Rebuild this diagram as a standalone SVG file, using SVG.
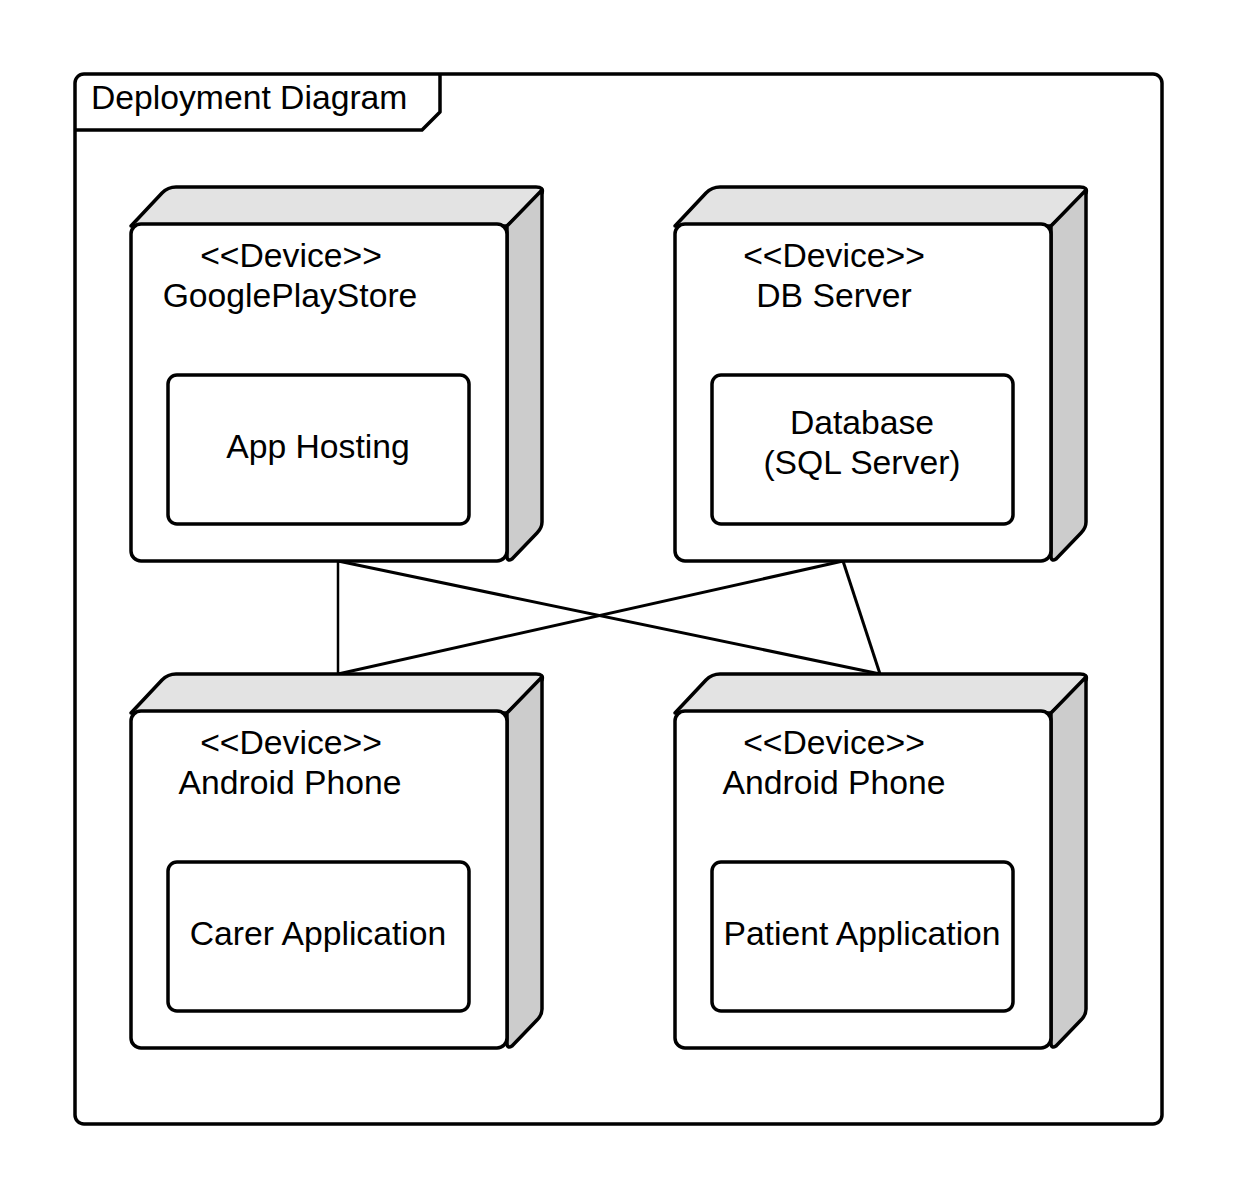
<svg xmlns="http://www.w3.org/2000/svg" width="1238" height="1200" viewBox="0 0 1238 1200">
<style>
.o{stroke:#000;stroke-width:3.5;stroke-linejoin:round}
.top{fill:#e3e3e3}
.side{fill:#cccccc}
.front{fill:#fff}
.art{fill:#fff;stroke:#000;stroke-width:3.5}
.c{stroke:#000;stroke-width:3;fill:none}
text{font-family:"Liberation Sans",Arial,sans-serif;font-size:33.7px;fill:#000;text-anchor:middle}
</style>
<rect width="1238" height="1200" fill="#fff"/>
<g id="frame">
<rect x="75" y="74" width="1087" height="1050" rx="9" fill="#fff" stroke="#000" stroke-width="3.5"/>
<path d="M75,130 L422,130 L440,112 L440,74" fill="none" stroke="#000" stroke-width="3.5" stroke-linejoin="round"/>
<text x="91" y="109" style="text-anchor:start">Deployment Diagram</text>
</g>
<g id="connectors">
<line class="c" x1="338" y1="561" x2="338" y2="674" style="stroke-width:2.5"/>
<line class="c" x1="338" y1="561" x2="880" y2="674"/>
<line class="c" x1="843" y1="561" x2="338" y2="674"/>
<line class="c" x1="843" y1="561" x2="880" y2="674"/>
</g>
<g id="node-googleplaystore">
<path class="o top" d="M131,226 L162,193 Q168,187 176,187 L536,187 Q544,187 542,193 L507,226 Z"/>
<path class="o side" d="M507,226 L542,190 L542,522 Q542,528 537,533 L512,559 Q507,562 507,556 Z"/>
<rect class="o front" x="131" y="224" width="376" height="337" rx="10"/>
<text x="291" y="267">&lt;&lt;Device&gt;&gt;</text>
<text x="290" y="307">GooglePlayStore</text>
<rect class="art" x="168" y="375" width="301" height="149" rx="9"/>
<text x="318" y="458">App Hosting</text>
</g>
<g id="node-dbserver">
<path class="o top" d="M675,226 L706,193 Q712,187 720,187 L1080,187 Q1088,187 1086,193 L1051,226 Z"/>
<path class="o side" d="M1051,226 L1086,190 L1086,522 Q1086,528 1081,533 L1056,559 Q1051,562 1051,556 Z"/>
<rect class="o front" x="675" y="224" width="376" height="337" rx="10"/>
<text x="834" y="267">&lt;&lt;Device&gt;&gt;</text>
<text x="834" y="307">DB Server</text>
<rect class="art" x="712" y="375" width="301" height="149" rx="9"/>
<text x="862" y="434">Database</text>
<text x="862" y="474">(SQL Server)</text>
</g>
<g id="node-android-carer">
<path class="o top" d="M131,713 L162,680 Q168,674 176,674 L536,674 Q544,674 542,680 L507,713 Z"/>
<path class="o side" d="M507,713 L542,677 L542,1009 Q542,1015 537,1020 L512,1046 Q507,1049 507,1043 Z"/>
<rect class="o front" x="131" y="711" width="376" height="337" rx="10"/>
<text x="291" y="754">&lt;&lt;Device&gt;&gt;</text>
<text x="290" y="794">Android Phone</text>
<rect class="art" x="168" y="862" width="301" height="149" rx="9"/>
<text x="318" y="945">Carer Application</text>
</g>
<g id="node-android-patient">
<path class="o top" d="M675,713 L706,680 Q712,674 720,674 L1080,674 Q1088,674 1086,680 L1051,713 Z"/>
<path class="o side" d="M1051,713 L1086,677 L1086,1009 Q1086,1015 1081,1020 L1056,1046 Q1051,1049 1051,1043 Z"/>
<rect class="o front" x="675" y="711" width="376" height="337" rx="10"/>
<text x="834" y="754">&lt;&lt;Device&gt;&gt;</text>
<text x="834" y="794">Android Phone</text>
<rect class="art" x="712" y="862" width="301" height="149" rx="9"/>
<text x="862" y="945">Patient Application</text>
</g>
</svg>
